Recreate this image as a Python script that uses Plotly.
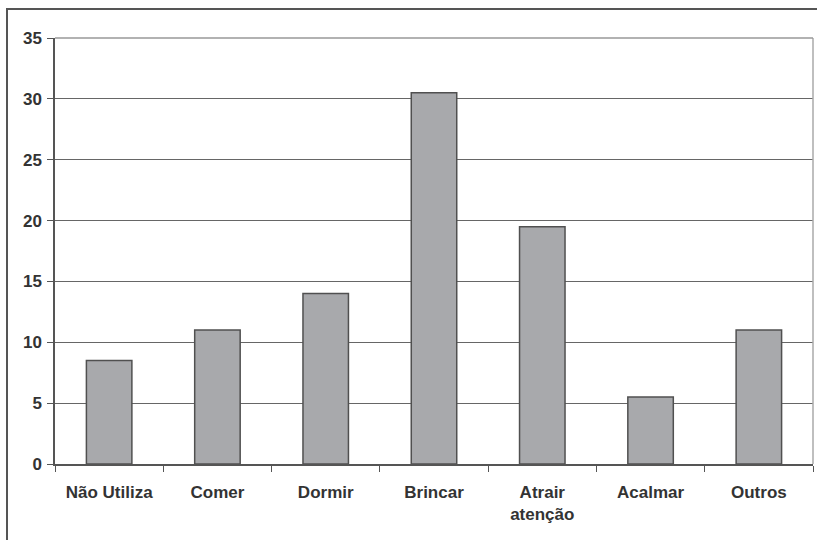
import plotly.graph_objects as go

categories = ["Não Utiliza", "Comer", "Dormir", "Brincar", "Atrair<br>atenção", "Acalmar", "Outros"]
values = [8.5, 11, 14, 30.5, 19.5, 5.5, 11]
y_ticks = [0, 5, 10, 15, 20, 25, 30, 35]

L, R, T, B = 55, 4, 38, 76
W, H = 817, 540
pw, ph = W - L - R, H - T - B

fig = go.Figure(go.Bar(
    x=categories, y=values, width=0.42,
    marker=dict(color="#a8a9ac", line=dict(color="#505050", width=1.5)),
))

fnt = dict(size=17, family="Liberation Sans, Arial, sans-serif", color="#333333")
fig.update_layout(
    width=W, height=H,
    margin=dict(l=L, r=R, t=T, b=B),
    paper_bgcolor="white", plot_bgcolor="white",
    showlegend=False,
    font=fnt,
    xaxis=dict(
        type="category", tickson="boundaries", ticks="outside", ticklen=6,
        tickcolor="#555555", showline=True, linecolor="#555555", linewidth=1.5,
        showgrid=False, tickfont=fnt, ticklabelstandoff=12,
    ),
    yaxis=dict(
        range=[0, 35], tickvals=y_ticks, ticks="outside", ticklen=6,
        tickcolor="#555555", showline=True, linecolor="#555555", linewidth=1.5,
        showgrid=True, gridcolor="#666666", gridwidth=1.2, zeroline=False,
        tickfont=fnt, ticklabelstandoff=2,
    ),
)

fig.update_xaxes(ticktext=["<b>%s</b>" % c for c in categories], tickvals=categories)
fig.update_yaxes(ticktext=["<b>%d</b>" % v for v in y_ticks])

fig.add_shape(type="line", xref="paper", yref="paper", x0=1, x1=1, y0=0, y1=1,
              line=dict(color="#aaaaaa", width=1.5))
fig.add_shape(type="line", xref="paper", yref="paper", x0=0, x1=1, y0=1, y1=1,
              line=dict(color="#999999", width=1.5))

x0 = (7 - L) / pw
y1 = (H - B - 9) / ph
fig.add_shape(type="rect", xref="paper", yref="paper", x0=x0, x1=1.5, y0=-0.5, y1=y1,
              line=dict(color="#555555", width=2), layer="below")

fig.write_html("out.html")
